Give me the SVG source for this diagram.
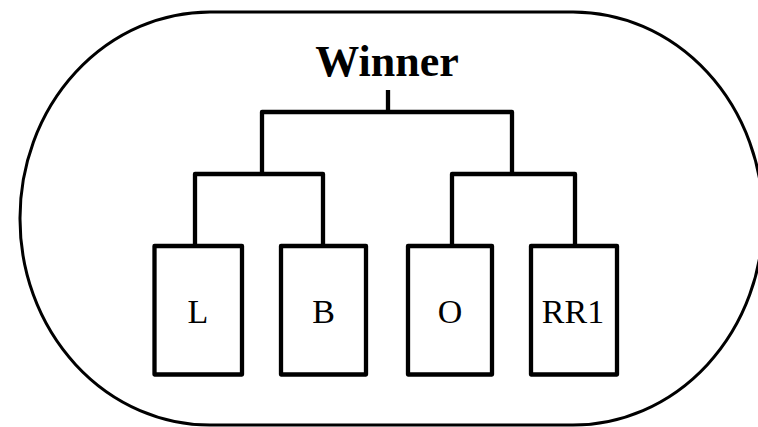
<svg xmlns="http://www.w3.org/2000/svg" width="758" height="427" viewBox="0 0 758 427">
<style>
.outer{fill:none;stroke:#000;stroke-width:3}
.box{fill:#fff;stroke:#000;stroke-width:4.3;stroke-linejoin:round}
.conn{fill:none;stroke:#000;stroke-width:4.3;stroke-linejoin:round}
.lbl{font-family:"Liberation Serif","Times New Roman",serif;font-size:34px;text-anchor:middle;fill:#000}
.title{font-family:"Liberation Serif","Times New Roman",serif;font-size:44px;font-weight:bold;text-anchor:middle;fill:#000}
</style>
<rect id="frame" class="outer" x="20" y="12" width="743" height="413" rx="190" ry="206"/>
<g id="winner"><text class="title" x="387" y="76">Winner</text></g>
<g id="connectors">
<path class="conn" d="M388 90 V112"/>
<path class="conn" d="M262 174 V112 H512 V174"/>
<path class="conn" d="M195 246 V174 H323 V246"/>
<path class="conn" d="M452 246 V174 H575 V246"/>
</g>
<g id="node-L"><rect class="box" x="154.5" y="246" width="87.5" height="128.5"/><text class="lbl" x="198" y="323">L</text></g>
<g id="node-B"><rect class="box" x="281" y="246" width="85" height="128.5"/><text class="lbl" x="323.5" y="323">B</text></g>
<g id="node-O"><rect class="box" x="408" y="246" width="84" height="128.5"/><text class="lbl" x="450" y="323">O</text></g>
<g id="node-RR1"><rect class="box" x="531" y="246" width="86" height="128.5"/><text class="lbl" x="573" y="323">RR1</text></g>
</svg>
